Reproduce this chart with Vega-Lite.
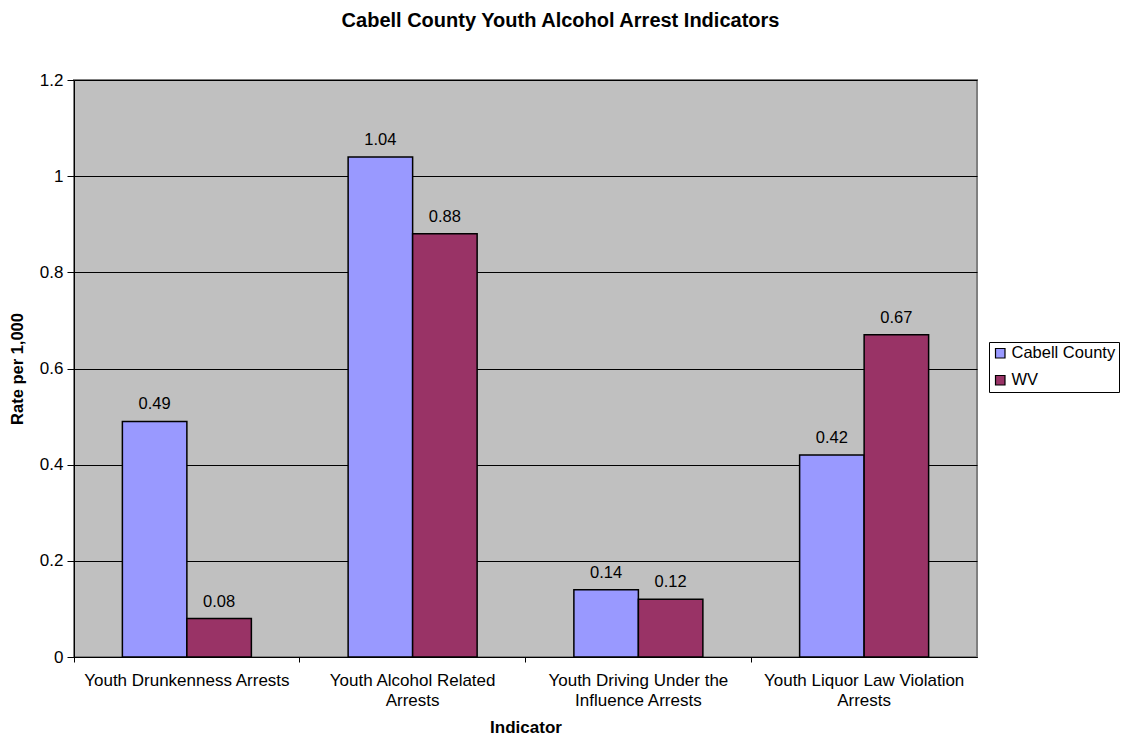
{
  "$schema": "https://vega.github.io/schema/vega-lite/v6.json",
  "autosize": "none",
  "width": 903,
  "height": 577,
  "padding": {"left": 74, "top": 80, "right": 144, "bottom": 81},
  "background": "white",
  "config": {
    "font": "Liberation Sans",
    "view": {"fill": "#C0C0C0", "stroke": "#808080", "strokeWidth": 2}
  },
  "title": {
    "text": "Cabell County Youth Alcohol Arrest Indicators",
    "font": "Liberation Sans",
    "fontSize": 20,
    "fontWeight": "bold",
    "color": "black",
    "anchor": "middle",
    "dx": 35,
    "offset": 40
  },
  "data": {
    "values": [
      {"indicator": "Youth Drunkenness Arrests", "area": "Cabell County", "rate": 0.49},
      {"indicator": "Youth Drunkenness Arrests", "area": "WV", "rate": 0.08},
      {"indicator": "Youth Alcohol Related Arrests", "area": "Cabell County", "rate": 1.04},
      {"indicator": "Youth Alcohol Related Arrests", "area": "WV", "rate": 0.88},
      {"indicator": "Youth Driving Under the Influence Arrests", "area": "Cabell County", "rate": 0.14},
      {"indicator": "Youth Driving Under the Influence Arrests", "area": "WV", "rate": 0.12},
      {"indicator": "Youth Liquor Law Violation Arrests", "area": "Cabell County", "rate": 0.42},
      {"indicator": "Youth Liquor Law Violation Arrests", "area": "WV", "rate": 0.67}
    ]
  },
  "encoding": {
    "x": {
      "field": "indicator",
      "type": "nominal",
      "sort": null,
      "scale": {"paddingInner": 0, "paddingOuter": 0},
      "axis": {
        "title": "Indicator",
        "titleFont": "Liberation Sans",
        "titleFontSize": 17,
        "titleFontWeight": "bold",
        "titleColor": "black",
        "titlePadding": 11,
        "labelAngle": 0,
        "labelFont": "Liberation Sans",
        "labelFontSize": 17,
        "labelColor": "black",
        "labelPadding": 10,
        "labelLineHeight": 20,
        "labelLimit": 0,
        "bandPosition": 0,
        "tickColor": "black",
        "tickSize": 5,
        "domainColor": "black",
        "labelExpr": "datum.value == 'Youth Alcohol Related Arrests' ? ['Youth Alcohol Related', 'Arrests'] : datum.value == 'Youth Driving Under the Influence Arrests' ? ['Youth Driving Under the', 'Influence Arrests'] : datum.value == 'Youth Liquor Law Violation Arrests' ? ['Youth Liquor Law Violation', 'Arrests'] : datum.value"
      }
    },
    "xOffset": {
      "field": "area",
      "type": "nominal",
      "scale": {"paddingInner": 0, "paddingOuter": 0.75}
    },
    "y": {
      "field": "rate",
      "type": "quantitative",
      "scale": {"domain": [0, 1.2]},
      "axis": {
        "title": "Rate per 1,000",
        "titleFont": "Liberation Sans",
        "titleFontSize": 16.5,
        "titleFontWeight": "bold",
        "titleColor": "black",
        "titlePadding": 14,
        "values": [0, 0.2, 0.4, 0.6, 0.8, 1, 1.2],
        "format": ".1~f",
        "labelFont": "Liberation Sans",
        "labelFontSize": 17,
        "labelColor": "black",
        "labelPadding": 4,
        "tickColor": "black",
        "tickSize": 7,
        "domainColor": "black",
        "grid": true,
        "gridColor": "black",
        "gridOpacity": 1
      }
    }
  },
  "layer": [
    {
      "mark": {"type": "bar", "stroke": "black", "strokeWidth": 1.5},
      "encoding": {
        "color": {
          "field": "area",
          "type": "nominal",
          "scale": {"domain": ["Cabell County", "WV"], "range": ["#9999FF", "#993366"]},
          "legend": {
            "title": null,
            "orient": "none",
            "legendX": 915,
            "legendY": 262,
            "symbolType": "square",
            "symbolSize": 90,
            "symbolStrokeColor": "black",
            "symbolStrokeWidth": 1.2,
            "symbolOpacity": 1,
            "labelFont": "Liberation Sans",
            "labelFontSize": 16.5,
            "labelColor": "black",
            "labelOffset": 3,
            "rowPadding": 10,
            "padding": 3,
            "strokeColor": "black",
            "fillColor": "white"
          }
        }
      }
    },
    {
      "mark": {"type": "text", "baseline": "alphabetic", "dy": -12, "font": "Liberation Sans", "fontSize": 16.5, "color": "black"},
      "encoding": {
        "text": {"field": "rate", "type": "quantitative", "format": ".2f"}
      }
    }
  ]
}
